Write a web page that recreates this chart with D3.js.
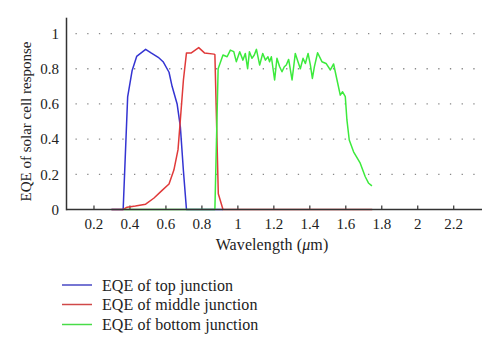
<!DOCTYPE html>
<html><head><meta charset="utf-8">
<script src="https://cdn.jsdelivr.net/npm/d3@7"></script>
<style>body{margin:0;background:#fff}svg{display:block}</style>
</head><body><svg id="c" width="500" height="352"></svg>
<script>
const topX = [0.30,0.365,0.39,0.415,0.44,0.49,0.52,0.56,0.587,0.62,0.637,0.665,0.683,0.70,0.717,0.92];
const topY = [0,0,0.64,0.79,0.87,0.91,0.89,0.865,0.84,0.78,0.70,0.60,0.47,0.22,0,0];
const midX = [0.30,0.365,0.387,0.433,0.49,0.535,0.58,0.62,0.647,0.67,0.683,0.70,0.717,0.744,0.785,0.817,0.87,0.875,0.894,0.92,1.75];
const midY = [0,0,0.013,0.02,0.03,0.064,0.107,0.145,0.224,0.34,0.51,0.736,0.89,0.89,0.92,0.89,0.883,0.88,0.09,0,0];
const botX = [0.37,0.875,0.893,0.92,0.943,0.961,0.98,0.994,1.013,1.031,1.044,1.057,1.067,1.081,1.094,1.106,1.124,1.141,1.156,1.17,1.179,1.189,1.207,1.22,1.235,1.248,1.261,1.272,1.285,1.304,1.322,1.337,1.35,1.365,1.378,1.393,1.406,1.417,1.428,1.446,1.47,1.493,1.517,1.535,1.554,1.572,1.585,1.6,1.609,1.622,1.646,1.683,1.711,1.73,1.748];
const botY = [0,0,0.80,0.878,0.868,0.906,0.897,0.84,0.897,0.849,0.887,0.80,0.897,0.859,0.878,0.91,0.821,0.887,0.849,0.868,0.84,0.868,0.736,0.859,0.811,0.783,0.811,0.821,0.853,0.736,0.887,0.84,0.80,0.859,0.83,0.887,0.821,0.745,0.811,0.891,0.84,0.83,0.793,0.827,0.736,0.65,0.669,0.641,0.509,0.395,0.328,0.263,0.186,0.149,0.134];
const xTicks = [0.2,0.4,0.6,0.8,1,1.2,1.4,1.6,1.8,2,2.2];
const yTicks = [0,0.2,0.4,0.6,0.8,1];
const seriesNames = ["EQE of top junction","EQE of middle junction","EQE of bottom junction"];
const colors = ["#3434d2","#e03a3a","#3cea3c"];
const legendColors = ["#4848c4","#d04848","#48dc48"];
const FONT = "'Liberation Serif', 'Times New Roman', serif";

const svg = d3.select("#c");
const x = d3.scaleLinear().domain([0.05,2.36]).range([66.5,482]);
const y = d3.scaleLinear().domain([0,1.09]).range([209.5,17.7]);

// grid
svg.append("g").selectAll("line").data(yTicks.filter(d=>d>0)).join("line")
  .attr("x1",x(0.05)+9).attr("x2",482).attr("y1",d=>y(d)).attr("y2",d=>y(d))
  .attr("stroke","#888").attr("stroke-width",1.3).attr("stroke-dasharray","1.3,10.4");

// y tick labels
svg.append("g").selectAll("text").data(yTicks).join("text")
  .attr("x",59).attr("y",d=>y(d)).attr("dy","0.35em").attr("text-anchor","end")
  .style("font-family",FONT).style("font-size","15px").attr("fill","#222").text(d=>d3.format("")(d));

// x axis
const xa = svg.append("g").attr("transform",`translate(0,${y(0)})`)
  .call(d3.axisBottom(x).tickValues(xTicks).tickSize(-4).tickPadding(9).tickFormat(d=>d3.format("")(d)));
xa.select(".domain").remove();
xa.selectAll(".tick line").attr("stroke","#333").attr("stroke-width",1.2);
xa.selectAll(".tick text").style("font-size","15px").style("font-family",FONT).attr("fill","#222");

// series
const line = d3.line().x(d=>x(d[0])).y(d=>y(d[1]));
const series = [d3.zip(topX,topY), d3.zip(midX,midY), d3.zip(botX,botY)];
svg.append("g").selectAll("path").data(series).join("path")
  .attr("d",line).attr("fill","none").attr("stroke",(d,i)=>colors[i]).attr("stroke-width",1.5)
  .attr("stroke-linejoin","round");

// axes lines
svg.append("line").attr("x1",x(0.05)).attr("x2",x(0.05)).attr("y1",y(1.09)).attr("y2",y(0)+0.8)
  .attr("stroke","#333").attr("stroke-width",1.5);
svg.append("line").attr("x1",x(0.05)).attr("x2",482).attr("y1",y(0)).attr("y2",y(0))
  .attr("stroke","#333").attr("stroke-width",1.5);

// labels
svg.append("text").attr("transform",`translate(31,${y(0.5)}) rotate(-90)`)
  .attr("text-anchor","middle").style("font-family",FONT).style("font-size","15px").attr("fill","#222")
  .text("EQE of solar cell response");
const xl = svg.append("text").attr("x",272).attr("y",250).attr("text-anchor","middle")
  .style("font-family",FONT).style("font-size","16px").style("letter-spacing","0.1px").attr("fill","#222");
xl.append("tspan").text("Wavelength (");
xl.append("tspan").style("font-style","italic").text("μ");
xl.append("tspan").text("m)");

// legend
const lg = svg.append("g").selectAll("g").data(seriesNames).join("g")
  .attr("transform",(d,i)=>`translate(0,${[285,304.5,324.5][i]})`);
lg.append("line").attr("x1",62).attr("x2",92).attr("stroke",(d,i)=>legendColors[i]).attr("stroke-width",1.5);
lg.append("text").attr("x",102).attr("dy","0.35em").style("font-family",FONT).style("font-size","16px")
  .style("letter-spacing","0.1px").attr("fill","#222").text(d=>d);
</script></body></html>
